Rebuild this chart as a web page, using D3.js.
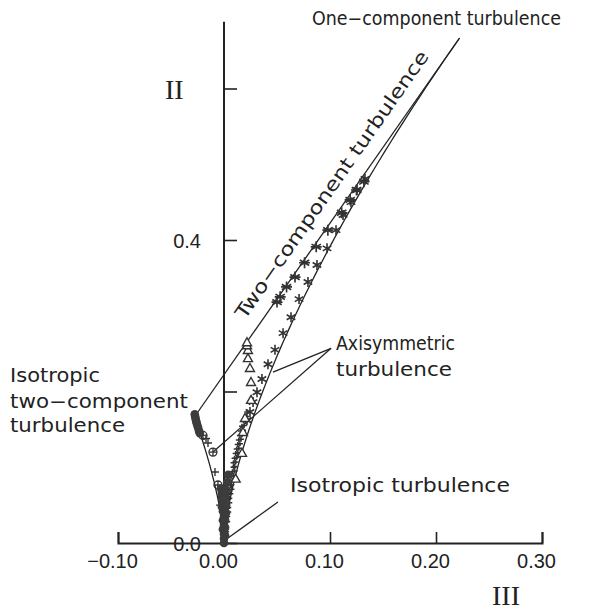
<!DOCTYPE html>
<meta charset="utf-8">
<html>
<body style="margin:0;background:#fff">
<div id="chartContainer"></div>
<script src="https://d3js.org/d3.v7.min.js"></script>
<script>
// corner points of the invariant map (III, II)
var isoPoint = [0, 0];
var twoCompIso = [-1 / 36, 1 / 6];
var oneComp = [2 / 9, 2 / 3];

var xTicks = [-0.10, 0.00, 0.10, 0.20, 0.30];
var yTicks = [0.0, 0.2, 0.4, 0.6];
var yTickLabels = ["0.0", "", "0.4", ""];

// measured points, [III, II]
var starsOuter = [[0.050, 0.318], [0.053, 0.325], [0.059, 0.338], [0.067, 0.351], [0.076, 0.370], [0.087, 0.391],
    [0.098, 0.413], [0.111, 0.436], [0.119, 0.453], [0.125, 0.466], [0.132, 0.477]];
var starsInner = [[0.0217, 0.1624], [0.0245, 0.173], [0.0274, 0.186], [0.0311, 0.199], [0.0358, 0.2165], [0.0415, 0.236],
    [0.0481, 0.255], [0.0557, 0.277], [0.0632, 0.298], [0.0708, 0.322], [0.0792, 0.3446], [0.0877, 0.367],
    [0.0972, 0.389], [0.1057, 0.413], [0.1123, 0.433], [0.1198, 0.450], [0.1255, 0.466], [0.133, 0.4805]];
var triangles = [[0.0110, 0.085], [0.017, 0.119], [0.0179, 0.1465], [0.0198, 0.165], [0.0255, 0.189], [0.0255, 0.2125],
    [0.0245, 0.231], [0.0226, 0.244], [0.0226, 0.2548], [0.0217, 0.261], [0.0217, 0.265]];
var smallPlus = [[0.001, 0.008], [0.002, 0.015], [0.002, 0.022], [0.003, 0.028], [0.003, 0.035], [0.004, 0.041],
    [0.004, 0.047], [0.005, 0.053], [0.005, 0.059], [0.006, 0.065], [0.007, 0.071], [0.007, 0.077],
    [0.008, 0.083], [0.009, 0.089], [0.010, 0.095], [0.010, 0.101], [0.011, 0.107], [0.012, 0.113],
    [0.013, 0.119], [0.014, 0.125], [0.015, 0.131], [0.016, 0.137], [0.017, 0.143], [0.018, 0.149],
    [0.019, 0.155], [0.020, 0.161], [0.021, 0.167], [0.022, 0.173],
    [0.000, 0.012], [0.001, 0.019], [0.001, 0.026], [0.002, 0.033], [0.002, 0.040], [0.003, 0.046],
    [0.003, 0.052], [0.004, 0.058], [0.004, 0.064], [0.005, 0.070], [0.006, 0.076], [0.006, 0.082],
    [0.007, 0.088], [0.008, 0.094], [0.009, 0.100], [0.009, 0.106], [0.010, 0.112], [0.011, 0.118],
    [0.012, 0.124], [0.013, 0.130], [0.014, 0.136], [0.015, 0.142], [0.016, 0.148], [0.017, 0.154]];
var filledDots = [[-0.0276, 0.170], [-0.0272, 0.167], [-0.0268, 0.164], [-0.0263, 0.161], [-0.0257, 0.158],
    [-0.0251, 0.155], [-0.0244, 0.152], [-0.0236, 0.148], [-0.0228, 0.145],
    [0.000, 0.000], [0.000, 0.006], [0.000, 0.012], [-0.001, 0.018], [0.000, 0.024], [-0.001, 0.030],
    [0.000, 0.036], [-0.001, 0.042], [-0.002, 0.048], [-0.001, 0.054], [-0.002, 0.060], [-0.002, 0.066],
    [-0.003, 0.072], [0.001, 0.010], [0.001, 0.020], [0.001, 0.030], [0.002, 0.040], [0.002, 0.050],
    [0.001, 0.060], [0.002, 0.070], [0.003, 0.080], [0.004, 0.090]];
var circlePlus = [[-0.0198, 0.142], [-0.0104, 0.120], [-0.0057, 0.0766]];
var leftPlus = [[-0.0170, 0.138], [-0.0151, 0.132], [-0.0085, 0.0937], [-0.0038, 0.050]];

var svg = d3.select("#chartContainer").append("svg")
    .attr("width", 592).attr("height", 611)
    .style("font-family", "DejaVu Sans, sans-serif");

var x = d3.scaleLinear().domain([-0.1, 0.3]).range([118, 542]);
var y = d3.scaleLinear().domain([0, 0.4]).range([543, 240]);
var ink = "#222";

// x axis, ticks pointing up
var xAxis = svg.append("g")
    .attr("transform", "translate(0," + y(0) + ")")
    .call(d3.axisBottom(x).tickValues(xTicks).tickSizeInner(-11).tickSizeOuter(-11).tickPadding(11)
        .tickFormat(function (d) { return d < 0 ? "\u2212" + d3.format(".2f")(-d) : d3.format(".2f")(d); }));
xAxis.select(".domain").attr("stroke", ink).attr("stroke-width", 2);
xAxis.selectAll(".tick line").attr("stroke", ink).attr("stroke-width", 1.6);
xAxis.selectAll(".tick text").attr("fill", ink).style("font-size", "20px").attr("dx", -6);

// y axis, ticks pointing right
var yAxis = svg.append("g")
    .attr("transform", "translate(" + x(0) + ",0)")
    .call(d3.axisLeft(y).tickValues(yTicks).tickSizeInner(-13).tickSizeOuter(0).tickPadding(23)
        .tickFormat(function (d, i) { return yTickLabels[i]; }));
yAxis.select(".domain").attr("d", "M0," + y(0) + "V" + y(0.688)).attr("stroke", ink).attr("stroke-width", 2);
yAxis.selectAll(".tick line").attr("stroke", ink).attr("stroke-width", 1.6);
yAxis.selectAll(".tick text").attr("fill", ink).style("font-size", "20px").attr("dy", "0.38em");

// boundaries
var line = d3.line().x(function (d) { return x(d[0]); }).y(function (d) { return y(d[1]); });
var axiRight = d3.range(0, 1 / 3 + 1e-9, 1 / 300).map(function (a) { return [6 * a * a * a, 6 * a * a]; });
var axiLeft = d3.range(0, -1 / 6 - 1e-9, -1 / 300).map(function (a) { return [6 * a * a * a, 6 * a * a]; });
axiLeft.push(twoCompIso);
axiRight.push(oneComp);
[axiRight, axiLeft, [twoCompIso, oneComp]].forEach(function (pts) {
    svg.append("path").attr("d", line(pts)).attr("fill", "none").attr("stroke", ink).attr("stroke-width", 1.3);
});

// leader lines
var leaders = [
    [[0.0509, 0.0541], [0.0038, 0.0066]],
    [[0.1010, 0.2570], [0.0462, 0.2257]],
    [[0.1010, 0.2570], [-0.0104, 0.1201]]
];
leaders.forEach(function (l) {
    svg.append("path").attr("d", line(l)).attr("stroke", ink).attr("stroke-width", 1.3);
});

// markers
var mk = "#333";
function pos(d) { return "translate(" + x(d[0]) + "," + y(d[1]) + ")"; }
var star = "M0,-5.5V5.5M-4.7,-2.7L4.7,2.7M-4.7,2.7L4.7,-2.7M-5.5,0H5.5";
function drawPaths(data, d, w, fill) {
    svg.append("g").selectAll("path").data(data).enter().append("path")
        .attr("transform", pos).attr("d", d)
        .attr("fill", fill || "none").attr("stroke", mk).attr("stroke-width", w);
}
drawPaths(smallPlus, "M-3,0H3M0,-2.5V2.5", 1.5);
drawPaths(starsOuter, star, 1.7);
drawPaths(starsInner, "M0,-5V5M-4.3,-2.5L4.3,2.5M-4.3,2.5L4.3,-2.5", 1.6);
drawPaths(triangles, "M0,-4.5L4.5,3.5H-4.5Z", 1.4, "#fff");
drawPaths(leftPlus, "M-4,0H4M0,-4V4", 1.4);
drawPaths(circlePlus, "M-4,0A4,4 0 1,0 4,0A4,4 0 1,0 -4,0M-4,0H4M0,-4V4", 1.3, "none");
svg.append("g").selectAll("circle").data(filledDots).enter().append("circle")
    .attr("cx", function (d) { return x(d[0]); }).attr("cy", function (d) { return y(d[1]); })
    .attr("r", 4.3).attr("fill", "#3c3c3c");

// texts
function label(t, xx, yy, len, size) {
    svg.append("text").attr("x", xx).attr("y", yy).attr("fill", ink)
        .style("font-size", (size || 19) + "px")
        .attr("textLength", len).attr("lengthAdjust", "spacingAndGlyphs").text(t);
}
label("One\u2212component  turbulence", 312, 25, 249);
label("Axisymmetric", 336, 350, 119);
label("turbulence", 336, 376, 116);
label("Isotropic", 10, 382, 90);
label("two\u2212component", 10, 408, 178);
label("turbulence", 10, 432, 115);
label("Isotropic  turbulence", 290, 492, 220);

svg.append("text").attr("x", 165).attr("y", 99).attr("fill", ink)
    .style("font-family", "Liberation Serif, serif").style("font-size", "28px").text("II");
svg.append("text").attr("x", 492).attr("y", 605).attr("fill", ink)
    .style("font-family", "Liberation Serif, serif").style("font-size", "28px").text("III");

// rotated label along the two-component line
var p0 = [x(twoCompIso[0]), y(twoCompIso[1])], p1 = [x(oneComp[0]), y(oneComp[1])];
var ang = Math.atan2(p1[1] - p0[1], p1[0] - p0[0]);
var ux = Math.cos(ang), uy = Math.sin(ang);
var sx = p0[0] + 108 * ux + 14 * uy, sy = p0[1] + 108 * uy - 14 * ux;
svg.append("text").attr("transform", "translate(" + sx + "," + sy + ") rotate(" + (ang * 180 / Math.PI) + ")")
    .attr("fill", ink).style("font-size", "19px")
    .attr("textLength", 322).attr("lengthAdjust", "spacingAndGlyphs")
    .text("Two\u2212component  turbulence");
</script>
</body>
</html>
